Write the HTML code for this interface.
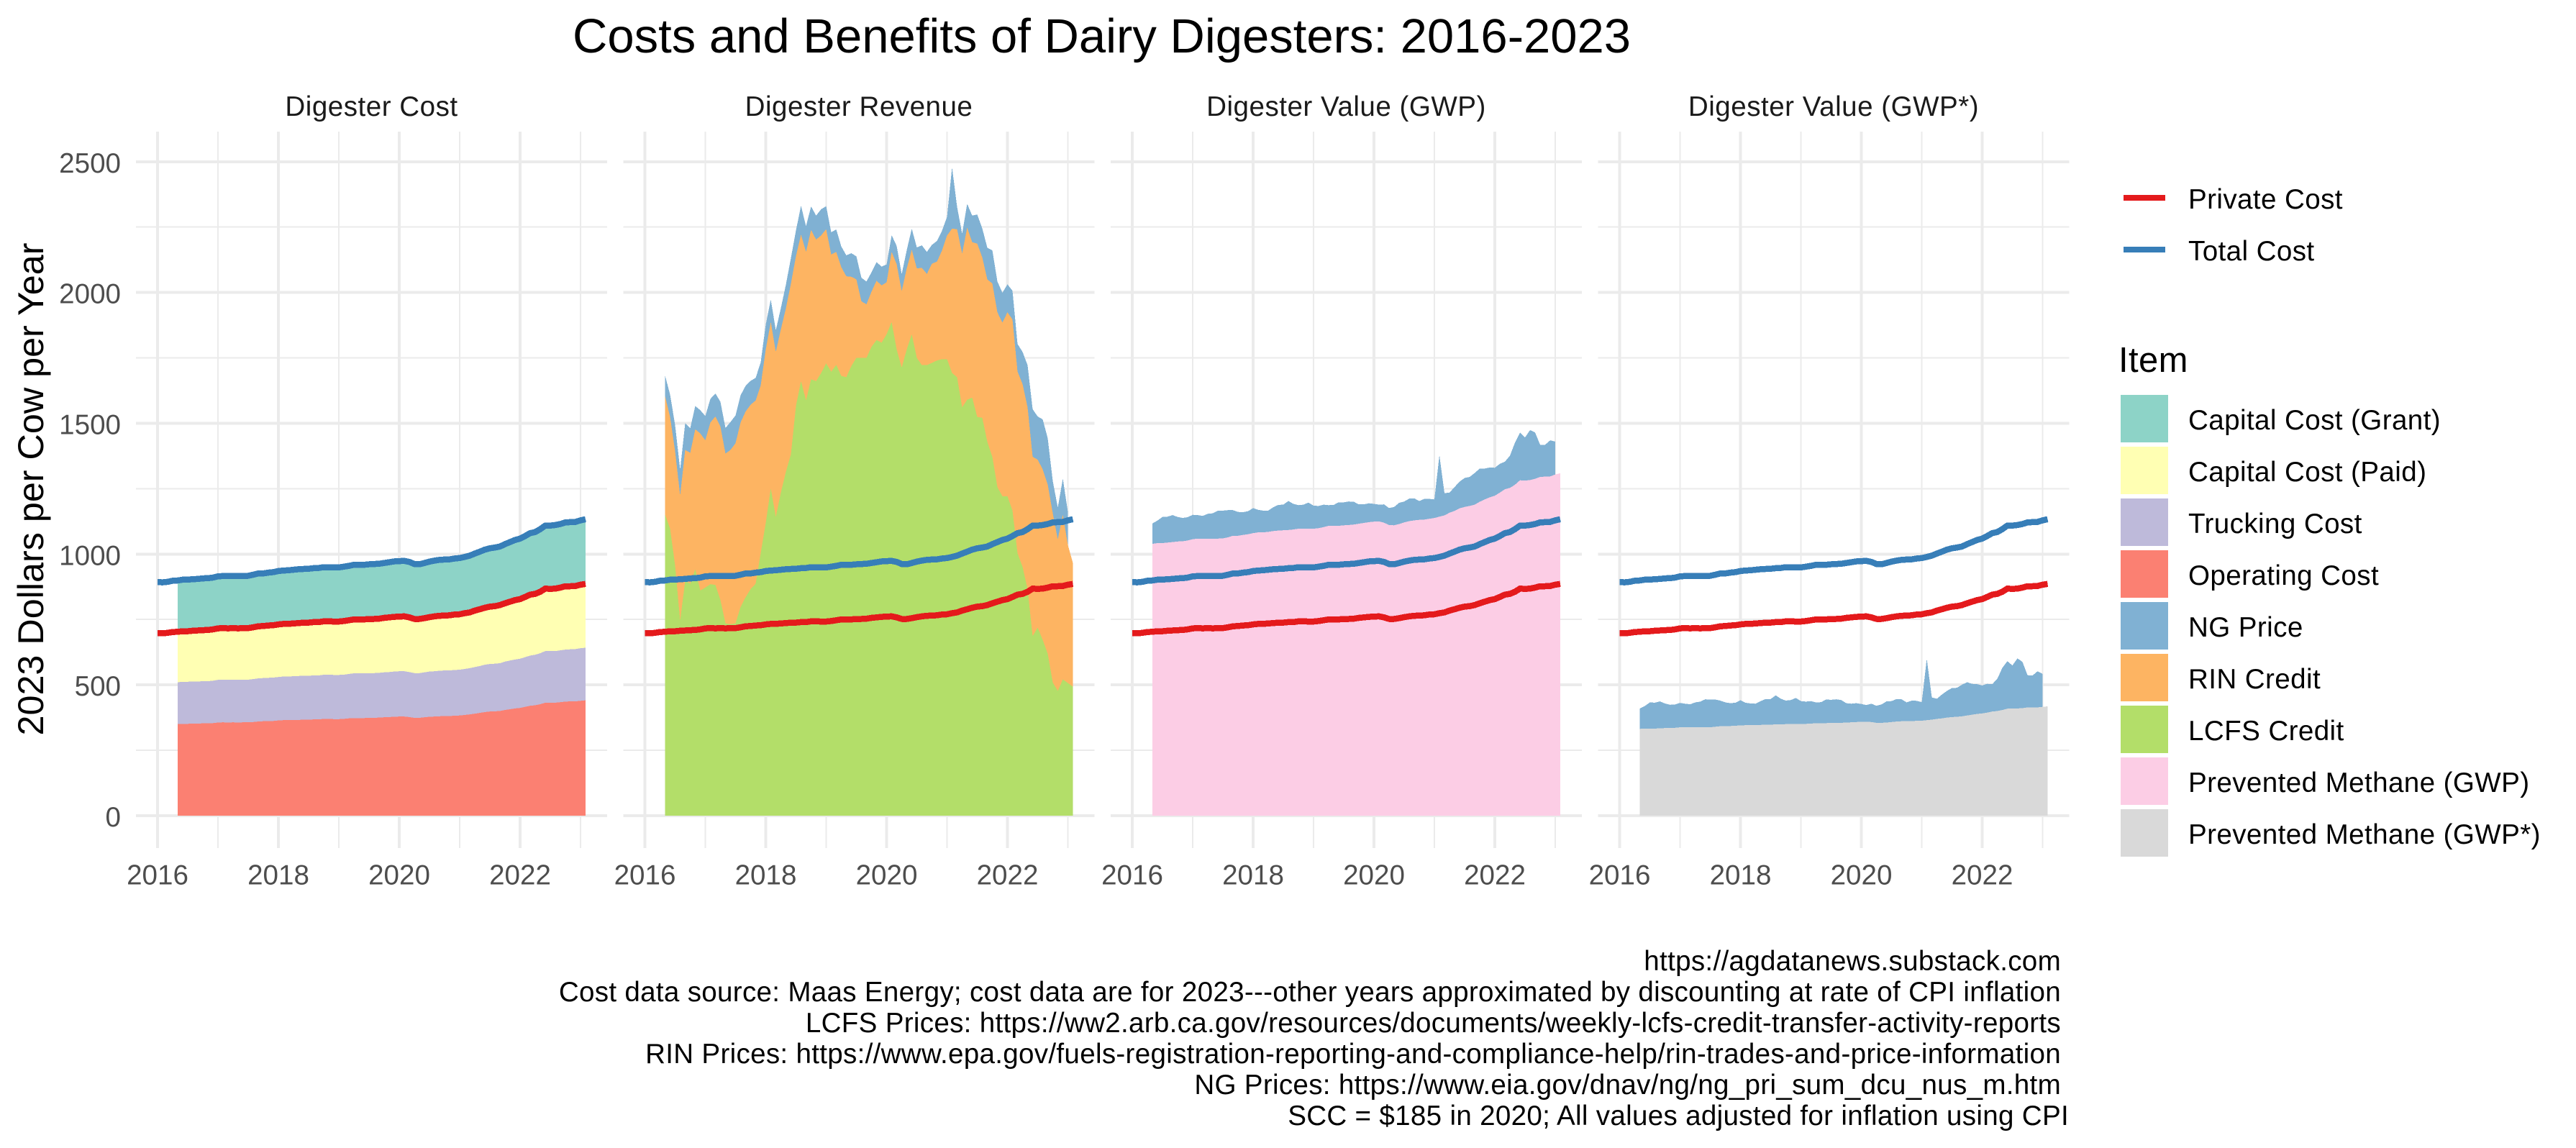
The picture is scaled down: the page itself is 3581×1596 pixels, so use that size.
<!DOCTYPE html>
<html lang="en">
<head>
<meta charset="utf-8">
<title>Costs and Benefits of Dairy Digesters: 2016-2023</title>
<style>
html,body{margin:0;padding:0;background:#fff;}
svg{display:block;font-family:"Liberation Sans",Arial,sans-serif;}
</style>
</head>
<body>
<svg id="chart" xmlns="http://www.w3.org/2000/svg" width="3581" height="1596" viewBox="0 0 3581 1596">
  <rect x="0" y="0" width="3581" height="1596" fill="#ffffff"/>
  <text x="796" y="73" font-size="67" fill="#000000">Costs and Benefits of Dairy Digesters: 2016-2023</text>
  <text transform="translate(60,680) rotate(-90)" text-anchor="middle" font-size="50.3" fill="#000000">2023 Dollars per Cow per Year</text>

  <g id="panels"></g>

  <g letter-spacing="0.4">
    <line x1="2952" x2="3010" y1="275" y2="275" stroke="#E41A1C" stroke-width="8"/>
    <text x="3042" y="290" font-size="38.6" fill="#000">Private Cost</text>
    <line x1="2952" x2="3010" y1="347" y2="347" stroke="#377EB8" stroke-width="8"/>
    <text x="3042" y="362" font-size="38.6" fill="#000">Total Cost</text>
  </g>

  <g letter-spacing="0.4">
    <text x="2945" y="517" font-size="49" fill="#000">Item</text>
    <rect x="2948" y="549" width="66" height="66" fill="#8DD3C7"/>
    <text x="3042" y="597" font-size="38.6" fill="#000">Capital Cost (Grant)</text>
    <rect x="2948" y="621" width="66" height="66" fill="#FFFFB3"/>
    <text x="3042" y="669" font-size="38.6" fill="#000">Capital Cost (Paid)</text>
    <rect x="2948" y="693" width="66" height="66" fill="#BEBADA"/>
    <text x="3042" y="741" font-size="38.6" fill="#000">Trucking Cost</text>
    <rect x="2948" y="765" width="66" height="66" fill="#FB8072"/>
    <text x="3042" y="813" font-size="38.6" fill="#000">Operating Cost</text>
    <rect x="2948" y="837" width="66" height="66" fill="#80B1D3"/>
    <text x="3042" y="885" font-size="38.6" fill="#000">NG Price</text>
    <rect x="2948" y="909" width="66" height="66" fill="#FDB462"/>
    <text x="3042" y="957" font-size="38.6" fill="#000">RIN Credit</text>
    <rect x="2948" y="981" width="66" height="66" fill="#B3DE69"/>
    <text x="3042" y="1029" font-size="38.6" fill="#000">LCFS Credit</text>
    <rect x="2948" y="1053" width="66" height="66" fill="#FCCDE5"/>
    <text x="3042" y="1101" font-size="38.6" fill="#000">Prevented Methane (GWP)</text>
    <rect x="2948" y="1125" width="66" height="66" fill="#D9D9D9"/>
    <text x="3042" y="1173" font-size="38.6" fill="#000">Prevented Methane (GWP*)</text>
  </g>

  <g font-size="38.6" fill="#000" text-anchor="end" letter-spacing="0.3">
    <text x="2865" y="1349">https://agdatanews.substack.com</text>
    <text x="2865" y="1392">Cost data source: Maas Energy; cost data are for 2023---other years approximated by discounting at rate of CPI inflation</text>
    <text x="2865" y="1435">LCFS Prices: https://ww2.arb.ca.gov/resources/documents/weekly-lcfs-credit-transfer-activity-reports</text>
    <text x="2865" y="1478">RIN Prices: https://www.epa.gov/fuels-registration-reporting-and-compliance-help/rin-trades-and-price-information</text>
    <text x="2865" y="1521">NG Prices: https://www.eia.gov/dnav/ng/ng_pri_sum_dcu_nus_m.htm</text>
    <text x="2876" y="1564">SCC = $185 in 2020; All values adjusted for inflation using CPI</text>
  </g>
</svg>

<script>
// ---- tick values ----
const xMajorYears = [2016, 2018, 2020, 2022];
const xMinorYears = [2017, 2019, 2021, 2023];
const yMajorValues = [0, 500, 1000, 1500, 2000, 2500];
const yMinorValues = [250, 750, 1250, 1750, 2250];

// ---- facet names ----
const facetNames = ["Digester Cost", "Digester Revenue", "Digester Value (GWP)", "Digester Value (GWP*)"];

// ---- monthly series: lines run Jan 2016 - Feb 2023 ----
const privateCost = [
  698,697,699,702,703,705,705,707,708,709,710,712,
  716,717,716,717,716,717,717,720,724,725,727,728,
  731,733,733,735,736,738,738,740,740,743,743,742,
  742,744,747,750,750,750,752,752,753,756,758,760,
  761,762,758,752,752,755,759,762,764,765,766,769,
  770,774,777,784,789,795,799,801,805,812,818,824,
  828,836,845,848,856,868,867,868,872,877,877,878,
  883,886];
const totalCost = [
  893,892,894,898,899,902,902,904,905,907,908,910,
  915,916,916,917,916,917,917,921,926,926,929,931,
  935,937,938,940,942,943,944,946,947,950,950,949,
  949,952,955,959,959,959,961,962,963,966,969,972,
  973,974,970,962,961,966,971,975,978,979,980,983,
  985,989,994,1002,1009,1017,1022,1025,1029,1038,1046,1054,
  1059,1069,1080,1084,1095,1109,1109,1111,1115,1121,1122,1123,
  1129,1133];

// ---- monthly stack layers: run May 2016 - Feb 2023 (NG ends Jan 2023) ----
const operatingCost = [
  350,351,351,352,352,353,353,354,
  356,357,356,357,356,357,357,358,360,361,362,362,
  364,365,365,366,366,367,367,368,368,370,370,369,
  369,370,372,373,373,373,374,374,375,376,377,378,
  379,379,377,374,374,376,378,379,380,381,381,382,
  383,385,387,390,393,396,398,399,400,404,407,410,
  412,416,420,422,426,432,432,432,434,436,437,437,
  439,441];
const truckingCost = [
  160,161,161,161,161,161,161,162,
  163,163,163,163,163,163,163,164,165,165,165,166,
  166,167,167,167,168,168,168,168,168,169,169,169,
  169,169,170,171,171,171,171,171,171,172,172,173,
  173,173,172,171,171,172,173,173,174,174,174,175,
  175,176,177,178,179,181,182,182,183,185,186,187,
  188,190,192,193,195,197,197,197,198,199,199,200,
  201,201];
const capitalPaid = [
  193,194,194,194,195,195,195,196,
  197,197,197,197,197,197,197,198,199,199,200,200,
  201,202,202,202,202,203,203,203,204,204,204,204,
  204,205,205,206,206,206,207,207,207,208,208,209,
  209,209,209,207,207,208,209,210,210,210,211,211,
  212,213,214,216,217,219,220,220,221,223,225,227,
  228,230,232,233,236,239,239,239,240,241,241,241,
  243,244];
const capitalGrant = [
  196,197,197,197,197,198,198,198,
  200,200,200,200,200,200,200,201,202,202,203,203,
  204,204,204,205,205,206,206,206,206,207,207,207,
  207,207,208,209,209,209,210,210,210,211,211,212,
  212,212,211,210,210,210,212,212,213,213,214,214,
  215,216,217,219,220,222,223,223,224,226,228,230,
  231,233,235,236,239,242,242,242,243,244,245,245,
  246,247];
const lcfsCredit = [
  1151,1098,956,745,898,887,942,861,
  872,885,882,824,735,732,735,798,835,866,887,1003,
  1119,1251,1142,1235,1314,1382,1566,1661,1587,1668,1661,1692,
  1729,1697,1723,1681,1676,1719,1750,1750,1750,1792,1818,1808,
  1840,1887,1782,1713,1782,1840,1750,1722,1722,1731,1740,1745,
  1745,1692,1676,1561,1590,1598,1524,1521,1429,1372,1256,1221,
  1221,1166,1003,951,866,686,719,672,619,509,477,521,
  507,493];
const rinCredit = [
  454,426,437,479,500,500,535,600,
  563,618,644,663,649,666,689,705,710,705,700,642,
  663,636,631,624,625,652,573,560,568,571,541,526,
  513,448,432,416,386,341,300,216,205,211,227,219,
  199,268,326,292,310,323,342,372,349,379,378,415,
  473,552,566,587,658,594,663,613,621,662,668,664,
  703,731,695,699,695,686,642,652,647,647,579,630,
  528,473];
const ngPrice = [
  78,86,100,99,103,94,89,89,
  93,90,88,95,98,107,106,104,98,91,87,88,
  96,86,83,81,91,98,98,111,98,90,92,100,
  88,85,86,79,80,90,88,90,87,74,71,72,
  68,64,70,65,70,81,80,86,84,72,79,76,
  71,235,85,77,91,102,111,111,121,127,118,114,
  107,110,105,123,161,182,165,191,177,123,122,138,
  126];
const methaneGwp = [
  1039,1042,1042,1044,1046,1048,1049,1052,
  1057,1059,1058,1059,1058,1059,1060,1064,1070,1070,1073,1076,
  1080,1083,1083,1085,1088,1090,1091,1092,1094,1097,1097,1097,
  1097,1099,1103,1108,1108,1108,1110,1111,1113,1116,1119,1122,
  1124,1125,1120,1111,1110,1115,1121,1126,1129,1131,1132,1135,
  1138,1143,1148,1158,1165,1175,1180,1184,1189,1200,1209,1217,
  1223,1235,1248,1253,1265,1282,1281,1283,1288,1295,1296,1297,
  1304,1309];
const methaneGwpStar = [
  332,333,333,333,334,335,335,336,
  338,338,338,338,338,338,338,340,342,342,343,344,
  345,346,346,347,347,348,348,349,349,350,350,350,
  350,351,352,354,354,354,355,355,355,356,357,358,
  359,359,358,355,355,356,358,360,361,361,361,363,
  363,365,367,370,372,375,377,378,380,383,386,389,
  391,394,398,400,404,409,409,410,411,414,414,414,
  416,418];

// ---- which layers are stacked in each facet, bottom to top ----
const facetLayers = [
  [["operating-cost", operatingCost, "#FB8072"], ["trucking-cost", truckingCost, "#BEBADA"], ["capital-paid", capitalPaid, "#FFFFB3"], ["capital-grant", capitalGrant, "#8DD3C7"]],
  [["lcfs-credit", lcfsCredit, "#B3DE69"], ["rin-credit", rinCredit, "#FDB462"], ["ng-price", ngPrice, "#80B1D3"]],
  [["prevented-methane-gwp", methaneGwp, "#FCCDE5"], ["ng-price", ngPrice, "#80B1D3"]],
  [["prevented-methane-gwp-star", methaneGwpStar, "#D9D9D9"], ["ng-price", ngPrice, "#80B1D3"]]
];

// ---- layout and scales ----
const SVGNS = "http://www.w3.org/2000/svg";
const panelStart = 189, panelStep = 677.5, panelWidth = 655, panelTop = 183, panelBottom = 1179;
const firstAreaMonth = 4;

function xYear(panel, year) {
  return panelStart + panelStep * panel + 30 + (year - 2016) * 84;
}
function xMonth(panel, m) {
  return xYear(panel, 2016 + m / 12);
}
function yValue(v) {
  return 1134 - v * 0.3637;
}
function make(tag, attrs, parent) {
  const el = document.createElementNS(SVGNS, tag);
  for (const k in attrs) el.setAttribute(k, attrs[k]);
  parent.appendChild(el);
  return el;
}

const root = document.getElementById("panels");

facetNames.forEach(function (name, p) {
  const slug = "panel-" + (p + 1);
  const left = panelStart + panelStep * p;
  const g = make("g", {}, root);
  
  

  const strip = make("text", {x: left + panelWidth / 2, y: 161, "text-anchor": "middle", "font-size": 38.6, "letter-spacing": 0.5, fill: "#1a1a1a"}, g);
  strip.textContent = name;
  
  

  yMinorValues.forEach(function (v) {
    const l = make("line", {x1: left, x2: left + panelWidth, y1: yValue(v), y2: yValue(v), stroke: "#ebebeb", "stroke-width": 2, "shape-rendering": "crispEdges"}, g);
    
    
  });
  xMinorYears.forEach(function (yr) {
    const l = make("line", {x1: xYear(p, yr), x2: xYear(p, yr), y1: panelTop, y2: panelBottom, stroke: "#ebebeb", "stroke-width": 2, "shape-rendering": "crispEdges"}, g);
    
    
  });
  yMajorValues.forEach(function (v) {
    const l = make("line", {x1: left, x2: left + panelWidth, y1: yValue(v), y2: yValue(v), stroke: "#ebebeb", "stroke-width": 4, "shape-rendering": "crispEdges"}, g);
    
    
  });
  xMajorYears.forEach(function (yr) {
    const l = make("line", {x1: xYear(p, yr), x2: xYear(p, yr), y1: panelTop, y2: panelBottom, stroke: "#ebebeb", "stroke-width": 4, "shape-rendering": "crispEdges"}, g);
    
    
    const t = make("text", {x: xYear(p, yr), y: 1229.5, "text-anchor": "middle", "font-size": 38.6, fill: "#4d4d4d"}, g);
    t.textContent = String(yr);
    
    
  });

  // stacked areas, accumulated from the layer arrays
  const cumulative = [];
  facetLayers[p].forEach(function (layer) {
    const values = layer[1];
    const top = [], bottom = [];
    values.forEach(function (v, i) {
      const base = cumulative[i] || 0;
      const mx = xMonth(p, firstAreaMonth + i).toFixed(1);
      top.push(mx + "," + yValue(base + v).toFixed(1));
      bottom.unshift(mx + "," + yValue(base).toFixed(1));
      cumulative[i] = base + v;
    });
    const poly = make("polygon", {points: top.concat(bottom).join(" "), fill: layer[2], stroke: "none", "shape-rendering": "crispEdges"}, g);
    
    
  });

  // cost lines
  [["private-cost", privateCost, "#E41A1C"], ["total-cost", totalCost, "#377EB8"]].forEach(function (s) {
    const pts = s[1].map(function (v, i) {
      return xMonth(p, i).toFixed(1) + "," + yValue(v).toFixed(1);
    }).join(" ");
    const line = make("polyline", {points: pts, fill: "none", stroke: s[2], "stroke-width": 8.5, "stroke-linejoin": "round", "stroke-linecap": "butt", "shape-rendering": "crispEdges"}, g);
    
    
  });
});

// y tick labels, left facet only
yMajorValues.forEach(function (v) {
  const t = make("text", {x: 168, y: yValue(v) + 15, "text-anchor": "end", "font-size": 38.6, fill: "#4d4d4d"}, root);
  t.textContent = String(v);
  
  
});
</script>
</body>
</html>
